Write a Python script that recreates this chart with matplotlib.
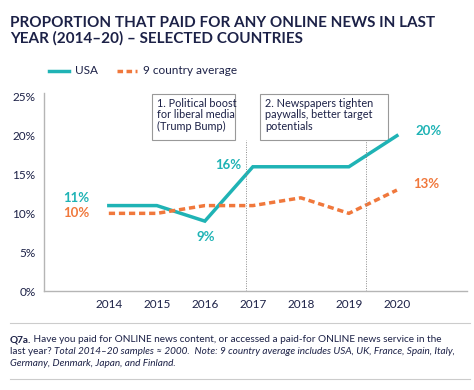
import matplotlib.pyplot as plt
from matplotlib.patches import Rectangle
from matplotlib.lines import Line2D

plt.rcParams['font.family'] = ['Lato', 'DejaVu Sans']

# Proportion that paid for online news (%)
years = [2014, 2015, 2016, 2017, 2018, 2019, 2020]
usa = [11, 11, 9, 16, 16, 16, 20]
avg9 = [10, 10, 11, 11, 12, 10, 13]

teal = '#1fb3b5'
orange = '#f0783c'
navy = '#1c2147'
grey = '#b5b5b5'

W, H = 474, 390
fig = plt.figure(figsize=(W / 100, H / 100), dpi=100)
ax = fig.add_axes([44 / W, 1 - 291 / H, (467 - 44) / W, (291 - 93) / H])

l_usa, = ax.plot(years, usa, color=teal, lw=2.5, solid_joinstyle='miter', label='USA')
l_avg, = ax.plot(years, avg9, color=orange, lw=2.5, dashes=(1.8, 1.1), label='9 country average')

ax.set_xlim(2012.65, 2021.46)
ax.set_ylim(0, 25.5)
ax.set_yticks([0, 5, 10, 15, 20, 25])
ax.set_yticklabels(['0%', '5%', '10%', '15%', '20%', '25%'])
ax.set_xticks(years)
ax.tick_params(length=0, labelsize=8.5, labelcolor=navy, pad=6)
for s in ['top', 'right']:
    ax.spines[s].set_visible(False)
for s in ['left', 'bottom']:
    ax.spines[s].set_color(grey)
    ax.spines[s].set_linewidth(1)

# data labels
lab = dict(fontsize=9.5, fontweight='bold', ha='center', va='center')
ax.text(2013.33, 12.0, '11%', color=teal, **lab)
ax.text(2013.33, 10.05, '10%', color=orange, **lab)
ax.text(2016.02, 7.0, '9%', color=teal, **lab)
ax.text(2016.48, 16.2, '16%', color=teal, **lab)
ax.text(2020.67, 20.6, '20%', color=teal, **lab)
ax.text(2020.62, 13.8, '13%', color=orange, **lab)

# annotation boxes and guide lines
for x0, x1, txt, xl in [(2014.9, 2016.625, '1. Political boost\nfor liberal media\n(Trump Bump)', 2016.85),
                        (2017.15, 2019.81, '2. Newspapers tighten\npaywalls, better target\npotentials', 2019.35)]:
    ax.add_patch(Rectangle((x0, 19.5), x1 - x0, 5.9, fill=False, ec='#999999', lw=0.8, clip_on=False))
    ax.text(x0 + 0.1, 24.9, txt, fontsize=7.8, color=navy, va='top', ha='left', linespacing=1.05)
    ax.plot([xl, xl], [0, 19.5], color='#8a8a8a', lw=0.7, ls=(0, (1, 1.5)))

# title
fig.text(10 / W, 1 - 43 / H, 'PROPORTION THAT PAID FOR ANY ONLINE NEWS IN LAST\nYEAR (2014–20) – SELECTED COUNTRIES',
         fontsize=11, fontweight='bold', color=navy, ha='left', va='baseline', linespacing=1.1)

# legend (drawn by hand, positions in pixels)
ly = 1 - 71 / H
for ln, x0, x1, tx in [(l_usa, 49, 69, 75), (l_avg, 117, 137, 143)]:
    fig.add_artist(Line2D([x0 / W, x1 / W], [ly, ly], color=ln.get_color(), lw=ln.get_linewidth(),
                          ls=ln.get_linestyle(), dashes=(1.6, 1.0) if ln is l_avg else (None, None)))
    fig.text(tx / W, ly, ln.get_label(), fontsize=8.5, color=navy, ha='left', va='center')

# footer
fig.add_artist(Line2D([10 / W, 470 / W], [1 - 323 / H] * 2, color='#cccccc', lw=0.8))
fig.add_artist(Line2D([10 / W, 470 / W], [1 - 379 / H] * 2, color='#cccccc', lw=0.8))

footer = [
    [('Q7a.', 'bold', 'normal'),
     (' Have you paid for ONLINE news content, or accessed a paid-for ONLINE news service in the', 'normal', 'normal')],
    [('last year? ', 'normal', 'normal'),
     ('Total 2014–20 samples ≈ 2000.  Note: 9 country average includes USA, UK, France, Spain, Italy,', 'normal', 'italic')],
    [('Germany, Denmark, Japan, and Finland.', 'normal', 'italic')],
]
fig.canvas.draw()
r = fig.canvas.get_renderer()
for i, line in enumerate(footer):
    x = 10
    y = 1 - (342 + i * 11.8) / H
    for txt, w, st in line:
        t = fig.text(x / W, y, txt, fontsize=7.2, fontweight=w, style=st, color=navy, ha='left', va='baseline')
        x += t.get_window_extent(r).width

fig.savefig('out.png', dpi=100)
